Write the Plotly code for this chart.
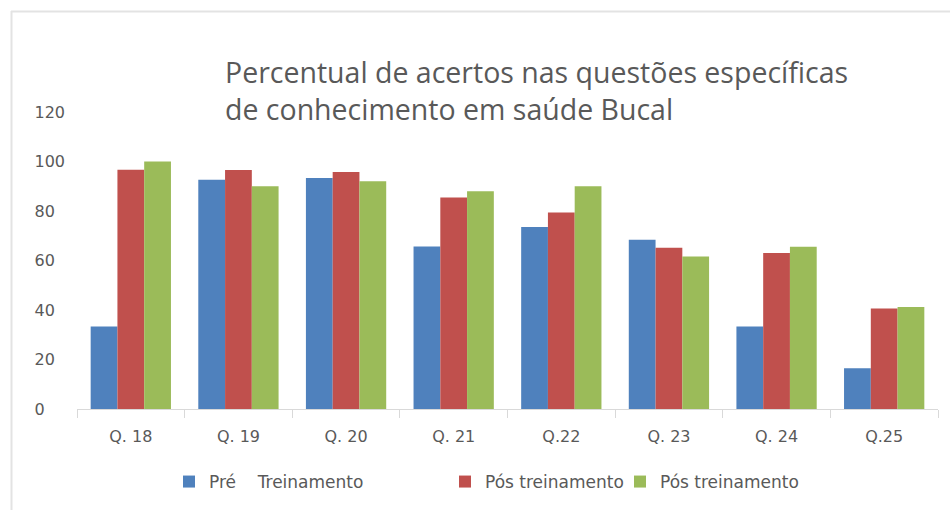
import plotly.graph_objects as go

categories = ["Q. 18", "Q. 19", "Q. 20", "Q. 21", "Q.22", "Q. 23", "Q. 24", "Q.25"]
pre_treinamento = [33.3, 92.6, 93.3, 65.7, 73.5, 68.4, 33.3, 16.5]
pos_treinamento_1 = [96.7, 96.6, 95.8, 85.5, 79.4, 65.2, 63.0, 40.6]
pos_treinamento_2 = [100.0, 90.0, 92.0, 88.0, 90.0, 61.6, 65.6, 41.2]
series_names = ["Pré\u00a0\u00a0\u00a0\u00a0Treinamento", "Pós treinamento", "Pós treinamento"]
y_ticks = [0, 20, 40, 60, 80, 100, 120]

colors = ["#4F81BD", "#C0504D", "#9BBB59"]
GRAY = "#595959"

# pad tick labels with figure spaces so they appear left-aligned
maxlen = max(len(str(t)) for t in y_ticks)
y_ticktext = [str(t) + "\u2007" * (maxlen - len(str(t))) for t in y_ticks]

fig = go.Figure()
for vals, name, col, lg in zip([pre_treinamento, pos_treinamento_1, pos_treinamento_2],
                               series_names, colors, ["legend", "legend2", "legend3"]):
    fig.add_trace(go.Bar(x=categories, y=vals, name=name, marker=dict(color=col, line=dict(width=0)),
                         legend=lg))

L, R, T, B = 77, 12, 112, 101
W, H = 950, 510
pw = W - L - R
ph = H - T - B

def px2paper_x(px):
    return (px - L) / pw

def px2paper_y(py):
    return (H - B - py) / ph

legend_font = dict(family="DejaVu Sans", size=17, color=GRAY)

def leg(xpx):
    return dict(orientation="h", xref="container", yref="container",
                x=xpx / W, xanchor="left", y=1 - 482 / H, yanchor="middle",
                font=legend_font, bgcolor="rgba(0,0,0,0)")

fig.update_layout(
    width=W, height=H,
    margin=dict(l=L, r=R, t=T, b=B, autoexpand=False),
    paper_bgcolor="white", plot_bgcolor="white",
    barmode="group", bargap=0.254, bargroupgap=0,
    font=dict(family="DejaVu Sans", size=15, color=GRAY),
    title=dict(
        text="Percentual de acertos nas questões específicas<br>de conhecimento em saúde Bucal",
        font=dict(family="Open Sans", size=28.5, color=GRAY),
        x=225 / W, xref="container", xanchor="left",
        y=1 - 83 / H, yref="container", yanchor="top",
    ),
    xaxis=dict(
        showline=True, linecolor="#D9D9D9", linewidth=1,
        ticks="outside", tickson="boundaries", ticklen=8, tickcolor="#D9D9D9",
        showgrid=False, ticklabelstandoff=13,
        tickfont=dict(family="DejaVu Sans", size=16, color=GRAY),
    ),
    yaxis=dict(
        range=[0, 120], tickvals=y_ticks, ticktext=y_ticktext,
        showgrid=False, zeroline=False, showline=False, ticks="",
        ticklabelstandoff=11,
        tickfont=dict(family="DejaVu Sans", size=16, color=GRAY),
    ),
    legend=leg(169),
    legend2=leg(445),
    legend3=leg(620),
    showlegend=True,
)

# outer frame lines (top and left)
fig.add_shape(type="line", xref="paper", yref="paper",
              x0=px2paper_x(11), x1=px2paper_x(952), y0=px2paper_y(11.5), y1=px2paper_y(11.5),
              line=dict(color="#E3E3E3", width=2))
fig.add_shape(type="line", xref="paper", yref="paper",
              x0=px2paper_x(11.5), x1=px2paper_x(11.5), y0=px2paper_y(11), y1=px2paper_y(512),
              line=dict(color="#E3E3E3", width=2))

fig.write_html("out.html", config={"displayModeBar": False},
               post_script="document.body.style.margin='0';")
